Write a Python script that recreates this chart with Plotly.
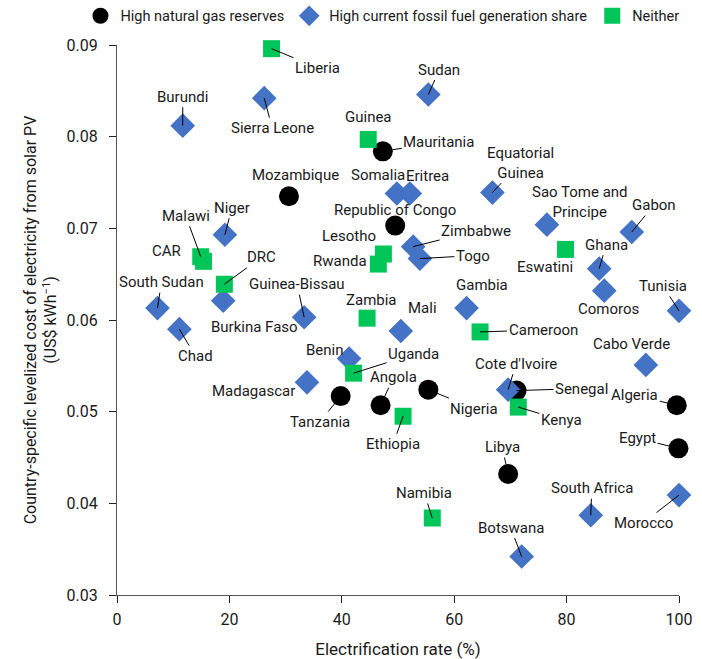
import plotly.graph_objects as go

# ---- data ----
gas_names = ["Mauritania", "Mozambique", "Republic of Congo", "Senegal", "Nigeria",
             "Tanzania", "Angola", "Algeria", "Egypt", "Libya"]
gas_x = [47.3, 30.6, 49.5, 71.1, 55.4, 39.8, 46.9, 99.6, 99.9, 69.6]
gas_y = [0.0784, 0.0735, 0.0703, 0.0523, 0.0524, 0.0517, 0.0507, 0.0507, 0.0460, 0.0432]

fossil_names = ["Burundi", "Sierra Leone", "Sudan", "Somalia", "Eritrea", "Equatorial Guinea",
                "Sao Tome and Principe", "Gabon", "Zimbabwe", "Togo", "Niger", "Ghana",
                "Comoros", "Tunisia", "Gambia", "South Sudan", "Burkina Faso", "Guinea-Bissau",
                "Chad", "Mali", "Benin", "Cabo Verde", "Madagascar", "Cote d'Ivoire",
                "South Africa", "Morocco", "Botswana"]
fossil_x = [11.7, 26.2, 55.4, 49.8, 52.1, 66.8, 76.5, 91.6, 52.7, 53.9, 19.2, 85.8,
            86.7, 100.0, 62.2, 7.2, 18.9, 33.3, 11.1, 50.5, 41.3, 94.1, 33.8, 69.6,
            84.3, 100.0, 72.0]
fossil_y = [0.0812, 0.0842, 0.0846, 0.0738, 0.0738, 0.0739, 0.0704, 0.0696, 0.0680, 0.0667,
            0.0693, 0.0656, 0.0632, 0.0610, 0.0613, 0.0613, 0.0621, 0.0603, 0.0590, 0.0588,
            0.0558, 0.0551, 0.0532, 0.0524, 0.0387, 0.0409, 0.0342]

neither_names = ["Liberia", "Guinea", "Malawi", "CAR", "DRC", "Lesotho", "Rwanda", "Eswatini",
                 "Zambia", "Cameroon", "Uganda", "Ethiopia", "Kenya", "Namibia"]
neither_x = [27.5, 44.7, 14.9, 15.4, 19.1, 47.4, 46.5, 79.8, 44.5, 64.6, 42.1, 50.9, 71.4, 56.1]
neither_y = [0.0896, 0.0797, 0.0669, 0.0664, 0.0639, 0.0672, 0.0661, 0.0677, 0.0602, 0.0587,
             0.0542, 0.0495, 0.0505, 0.0384]

x_ticks = [0, 20, 40, 60, 80, 100]
y_ticks = [0.03, 0.04, 0.05, 0.06, 0.07, 0.08, 0.09]
y_tick_text = ["0.03", "0.04", "0.05", "0.06", "0.07", "0.08", "0.09"]

# label placement: (pixel offset dx, dy from the marker, leader line?)
label_pos = {
    "Liberia": (46, 19, True), "Burundi": (0, -29, True), "Sierra Leone": (8, 30, True),
    "Guinea": (0, -22, False), "Mauritania": (56, -9, True), "Mozambique": (7, -21, False),
    "Somalia": (-19, -19, False), "Eritrea": (18, -18, False),
    "Equatorial Guinea": (28, -30, True), "Sao Tome and Principe": (33, -23, False),
    "Gabon": (22, -27, True), "Republic of Congo": (0, -16, False),
    "Zimbabwe": (63, -16, True), "Togo": (53, -3, True), "Lesotho": (-34, -18, False),
    "Rwanda": (-38, -3, False), "Eswatini": (-20, 18, False), "Ghana": (7, -24, True),
    "Comoros": (4, 18, False), "Tunisia": (-16, -25, True), "Gambia": (15, -23, False),
    "Mali": (22, -23, False), "Cameroon": (63, -2, True), "Cabo Verde": (-14, -21, False),
    "Cote d'Ivoire": (8, -26, True), "Senegal": (65, -2, True), "Algeria": (-42, -10, True),
    "Egypt": (-41, -10, True), "Kenya": (43, 13, True), "Nigeria": (46, 19, True),
    "Angola": (13, -28, True), "Uganda": (60, -19, True), "Benin": (-24, -9, False),
    "Zambia": (4, -18, False), "Guinea-Bissau": (-7, -33, True),
    "Burkina Faso": (31, 26, False), "DRC": (37, -27, True), "Malawi": (-15, -41, True),
    "CAR": (-37, -10, False), "Niger": (7, -27, True), "South Sudan": (4, -26, True),
    "Chad": (16, 27, True), "Madagascar": (-53, 9, False), "Tanzania": (-21, 26, True),
    "Ethiopia": (-10, 28, True), "Libya": (-6, -27, True), "Namibia": (-8, -25, True),
    "Botswana": (-11, -29, True), "South Africa": (1, -27, True), "Morocco": (-36, 28, True),
    "Sudan": (11, -25, True),
}

FONT = "Roboto"
TXT = "#1a1a1a"
fig = go.Figure()
fig.add_trace(go.Scatter(x=gas_x, y=gas_y, mode="markers", name="High natural gas reserves",
                         text=gas_names, cliponaxis=False,
                         marker=dict(symbol="circle", size=20, color="black", line=dict(width=0))))
fig.add_trace(go.Scatter(x=fossil_x, y=fossil_y, mode="markers",
                         name="High current fossil fuel generation share", text=fossil_names,
                         cliponaxis=False,
                         marker=dict(symbol="diamond", size=19, color="#4472C4", line=dict(width=0))))
fig.add_trace(go.Scatter(x=neither_x, y=neither_y, mode="markers", name="Neither",
                         text=neither_names, cliponaxis=False,
                         marker=dict(symbol="square", size=17, color="#00C65A", line=dict(width=0))))

annotations = []
for names, xs, ys in [(gas_names, gas_x, gas_y), (fossil_names, fossil_x, fossil_y),
                      (neither_names, neither_x, neither_y)]:
    for n, xv, yv in zip(names, xs, ys):
        dx, dy, line = label_pos[n]
        txt = n
        if n == "Equatorial Guinea":
            txt = "Equatorial<br>Guinea"
        if n == "Sao Tome and Principe":
            txt = "Sao Tome and<br>Principe"
        annotations.append(dict(
            x=xv, y=yv, xref="x", yref="y", text=txt, showarrow=True,
            ax=dx, ay=dy, arrowhead=0, arrowwidth=1,
            arrowcolor="black" if line else "rgba(0,0,0,0)",
            font=dict(family=FONT, size=15, color=TXT), borderpad=1,
        ))

fig.update_layout(
    width=702, height=659,
    margin=dict(l=117, r=23, t=45, b=64, autoexpand=False),
    paper_bgcolor="white", plot_bgcolor="white",
    font=dict(family=FONT, size=15, color=TXT),
    annotations=annotations,
    showlegend=True,
    legend=dict(orientation="h", x=-0.065, xanchor="left", y=1.053, yanchor="middle",
                font=dict(family=FONT, size=14.5, color=TXT), itemwidth=30, tracegroupgap=0,
                bgcolor="rgba(0,0,0,0)"),
    xaxis=dict(range=[0, 100], tickvals=x_ticks, showgrid=False, zeroline=False,
               showline=True, linecolor="#555555", linewidth=1.2, ticks="outside",
               ticklen=7, tickcolor="#222222", tickfont=dict(size=16), automargin=False,
               ticklabelstandoff=3,
               title=dict(text="Electrification rate (%)", font=dict(size=17), standoff=16)),
    yaxis=dict(range=[0.03, 0.09], tickvals=y_ticks, ticktext=y_tick_text, showgrid=False,
               zeroline=False, showline=True, linecolor="#555555", linewidth=1.2,
               ticks="outside", ticklen=7, tickcolor="#222222", tickfont=dict(size=16),
               ticklabelstandoff=8, automargin=False,
               title=dict(text="Country-specific levelized cost of electricity from solar PV<br>(US$ kWh<sup>−1</sup>)",
                          font=dict(size=16), standoff=5)),
)

fig.write_html("out.html", config={"displayModeBar": False},
               post_script="document.body.style.margin='0';document.body.style.padding='0';")
